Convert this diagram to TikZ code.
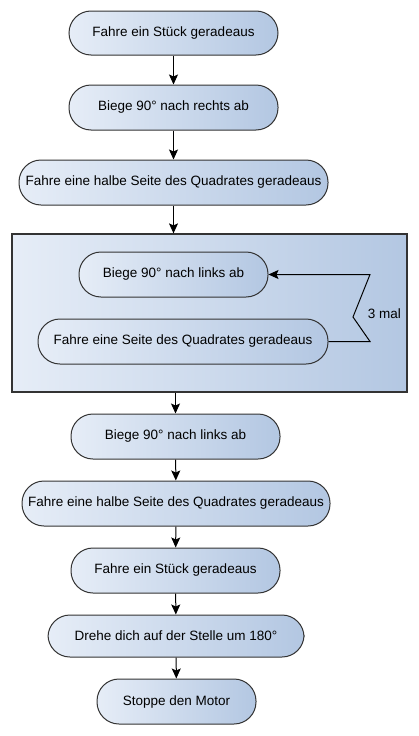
\documentclass[tikz,border=0pt]{standalone}
\usepackage{fontspec}
\setmainfont{Liberation Sans}
\usetikzlibrary{arrows.meta}
\definecolor{gradL}{HTML}{E6EDF7}
\definecolor{gradR}{HTML}{B3C7E2}
\definecolor{edge}{HTML}{333333}
\tikzset{
  stadium/.style={draw=edge, line width=1pt, rounded corners=22pt,
    left color=gradL, right color=gradR, inner sep=2pt,
    minimum height=45pt, font=\fontsize{13.5}{16}\selectfont},
  loopbox/.style={draw=edge, line width=1.2pt, left color=gradL, right color=gradR,
    inner sep=0pt},
  flow/.style={draw=black, line width=1pt, -{Stealth[length=10pt,width=9pt,inset=2pt]}},
  plain/.style={draw=black, line width=1pt},
  lbl/.style={font=\fontsize{13.5}{16}\selectfont, inner sep=0pt}
}
\begin{document}
\begin{tikzpicture}[x=1pt,y=-1pt]
\useasboundingbox (0,0) rectangle (419,736);
\node[stadium, minimum width=209pt, minimum height=44pt] (n1) at (173.5,33) {Fahre ein Stück geradeaus};
\node[stadium, minimum width=209pt] (n2) at (173.5,107.5) {Biege 90° nach rechts ab};
\node[stadium, minimum width=309pt] (n3) at (173.5,182.5) {Fahre eine halbe Seite des Quadrates geradeaus};
\node[loopbox, minimum width=395pt, minimum height=158pt] (box) at (209.5,313) {};
\node[stadium, minimum width=189pt] (n4) at (173.5,274.5) {Biege 90° nach links ab};
\node[stadium, minimum width=290pt] (n5) at (183,341.5) {Fahre eine Seite des Quadrates geradeaus};
\node[stadium, minimum width=209pt] (n6) at (175.5,436.5) {Biege 90° nach links ab};
\node[stadium, minimum width=308pt] (n7) at (176,503.5) {Fahre eine halbe Seite des Quadrates geradeaus};
\node[stadium, minimum width=209pt] (n8) at (175.5,570.5) {Fahre ein Stück geradeaus};
\node[stadium, minimum width=256pt, minimum height=42pt] (n9) at (176,636) {Drehe dich auf der Stelle um 180°};
\node[stadium, minimum width=159pt] (n10) at (176.5,701.5) {Stoppe den Motor};
\coordinate (zb) at (370,341.5);
\coordinate (zm) at (353,317);
\coordinate (zt) at (370,274.5);
\node[lbl] (times) at (384.5,314) {3 mal};
\draw[flow] (n1) -- (n2);
\draw[flow] (n2) -- (n3);
\draw[flow] (n3.south) -- (n3.south |- box.north);
\draw[flow] (n6.north |- box.south) -- (n6.north);
\draw[flow] (n6) -- (n7);
\draw[flow] (n7) -- (n8);
\draw[flow] (n8) -- (n9);
\draw[flow] (n9) -- (n10);
\draw[flow] (n5.east) -- (zb) -- (zm) -- (zt) -- (n4.east);
\end{tikzpicture}
\end{document}
